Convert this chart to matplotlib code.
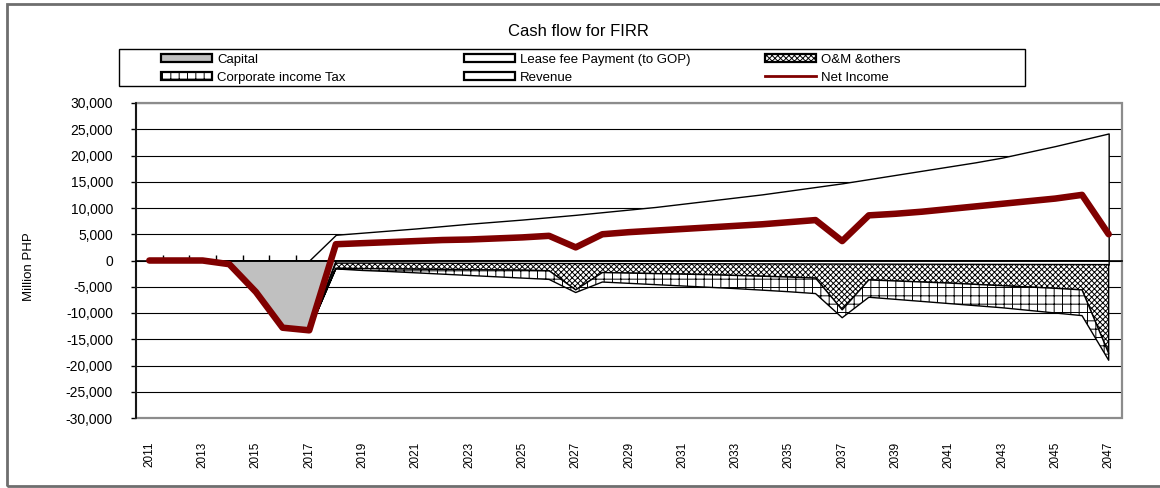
import numpy as np
import matplotlib
matplotlib.use("Agg")
import matplotlib.pyplot as plt
from matplotlib.patches import Patch, Rectangle
from matplotlib.lines import Line2D

plt.rcParams['font.family'] = ['Liberation Sans', 'DejaVu Sans']
plt.rcParams['hatch.linewidth'] = 0.7

years = list(range(2011, 2048))

# values in million PHP (costs as positive magnitudes)
capital = [0, 0, 0, 700, 6000, 12800, 13300,
           0, 0, 0, 0, 0, 0, 0, 0, 0, 0,
           0, 0, 0, 0, 0, 0, 0, 0, 0, 0,
           0, 0, 0, 0, 0, 0, 0, 0, 0, 0]
lease_fee = [0, 0, 0, 0, 0, 0, 0,
             500, 500, 500, 520, 530, 540, 550, 560, 570, 580,
             590, 600, 610, 620, 630, 640, 650, 660, 670, 680,
             690, 700, 710, 720, 730, 740, 750, 760, 770, 780]
om_others = [0, 0, 0, 0, 0, 0, 0,
             1000, 1050, 1100, 1130, 1170, 1210, 1250, 1290, 1380, 5020,
             1710, 1800, 1890, 1980, 2070, 2210, 2350, 2490, 2680, 8720,
             3010, 3200, 3390, 3580, 3820, 4060, 4300, 4540, 4830, 16920]
corp_tax = [0, 0, 0, 0, 0, 0, 0,
            100, 350, 500, 700, 900, 1100, 1300, 1500, 1650, 500,
            1800, 1950, 2100, 2250, 2400, 2500, 2650, 2800, 2950, 1500,
            3300, 3500, 3700, 3900, 4050, 4200, 4450, 4700, 4900, 1300]
revenue = [0, 0, 0, 0, 0, 0, 0,
           4900, 5300, 5700, 6100, 6550, 7000, 7400, 7800, 8250, 8700,
           9200, 9700, 10200, 10800, 11400, 12000, 12600, 13300, 14000, 14700,
           15500, 16300, 17100, 17900, 18700, 19600, 20700, 21800, 23000, 24200]
net_income = [0, 0, 0, -700, -6000, -12800, -13300,
              3100, 3300, 3500, 3700, 3900, 4000, 4200, 4400, 4700, 2500,
              5000, 5400, 5700, 6000, 6300, 6600, 6900, 7300, 7700, 3700,
              8600, 8900, 9300, 9800, 10300, 10800, 11300, 11800, 12500, 5000]

W, H = 1160, 488
fig = plt.figure(figsize=(W / 100, H / 100), dpi=100)
ax = fig.add_axes([136 / W, (H - 418) / H, (1122 - 136) / W, (418 - 103) / H])

x = np.arange(len(years))
cap = -np.array(capital, dtype=float)
b1 = cap - np.array(lease_fee)
b2 = b1 - np.array(om_others)
b3 = b2 - np.array(corp_tax)

ax.fill_between(x, 0, revenue, facecolor='white', edgecolor='black', lw=1.0)
ax.fill_between(x, 0, cap, facecolor='#c0c0c0', edgecolor='black', lw=1.0)
ax.fill_between(x, cap, b1, facecolor='white', edgecolor='black', lw=1.0)
ax.fill_between(x, b1, b2, facecolor='white', edgecolor='black', hatch='xxxxxx', lw=1.0)
ax.fill_between(x, b2, b3, facecolor='white', edgecolor='black', hatch='++', lw=1.0)
ax.plot(x, net_income, color='#800000', lw=4.7, solid_capstyle='round',
        solid_joinstyle='round', zorder=4)

ax.set_xlim(-0.5, len(years) - 0.5)
ax.set_ylim(-30000, 30000)
yt = list(range(-30000, 30001, 5000))
ax.set_yticks(yt, labels=[f'{v:,}' for v in yt])
ax.yaxis.grid(True, color='black', lw=0.8)
ax.set_axisbelow(True)
ax.tick_params(axis='y', direction='out', length=3.6, width=1, labelsize=10, pad=13)

# category axis crosses at zero, ticks between categories
ax.spines['bottom'].set_position(('data', 0))
ax.spines['bottom'].set_linewidth(1.2)
ax.set_xticks(np.arange(0.5, len(years) - 1, 1))
ax.tick_params(axis='x', direction='in', length=4, width=1, labelbottom=False)
ax.spines['left'].set_linewidth(1.2)
ax.spines['top'].set_visible(False)
ax.spines['right'].set_visible(False)
ax.add_patch(Rectangle((0, 0), 1, 1, transform=ax.transAxes, fill=False,
                       edgecolor='#8c8c8c', lw=1.6, clip_on=False, zorder=2.4))

# year labels sit below the plot area
secax = ax.secondary_xaxis(0)
secax.set_xticks(x[::2], labels=[str(y) for y in years[::2]], rotation=90)
secax.tick_params(length=0, pad=17, labelsize=8.5)
secax.spines['bottom'].set_visible(False)

ax.set_ylabel('Million PHP', fontsize=9.5)
ax.yaxis.set_label_coords(-0.1024, 0.481)

fig.text(578 / W, 1 - 32 / H, 'Cash flow for FIRR', ha='center', va='center', fontsize=12)

# legend: frame plus three columns
fig.patches.append(Rectangle((119 / W, 1 - 86 / H), (1025 - 119) / W, 37 / H,
                             transform=fig.transFigure, fill=False,
                             edgecolor='black', lw=1.0))
leg_kw = dict(loc='upper left', frameon=False, fontsize=9.5, borderpad=0,
              borderaxespad=0, handlelength=3.9, handleheight=0.55,
              handletextpad=0.35, labelspacing=0.44)
col1 = [Patch(facecolor='#c0c0c0', edgecolor='black', lw=1.6, label='Capital'),
        Patch(facecolor='white', edgecolor='black', hatch='++', lw=1.6,
              label='Corporate income Tax')]
col2 = [Patch(facecolor='white', edgecolor='black', lw=1.6, label='Lease fee Payment (to GOP)'),
        Patch(facecolor='white', edgecolor='black', lw=1.6, label='Revenue')]
col3 = [Patch(facecolor='white', edgecolor='black', hatch='xxxxxx', lw=1.6,
              label='O&M &others'),
        Line2D([], [], color='#800000', lw=2, label='Net Income')]
for handles, left in [(col1, 161), (col2, 464), (col3, 765)]:
    fig.legend(handles=handles, bbox_to_anchor=(left / W, 1 - 53.8 / H), **leg_kw)

# outer chart border
fig.patches.append(Rectangle((7 / W, 2 / H), 1.05, (484 - 2) / H,
                             transform=fig.transFigure, fill=False,
                             edgecolor='#6e6e6e', lw=2))

fig.savefig('out.png', dpi=100)
